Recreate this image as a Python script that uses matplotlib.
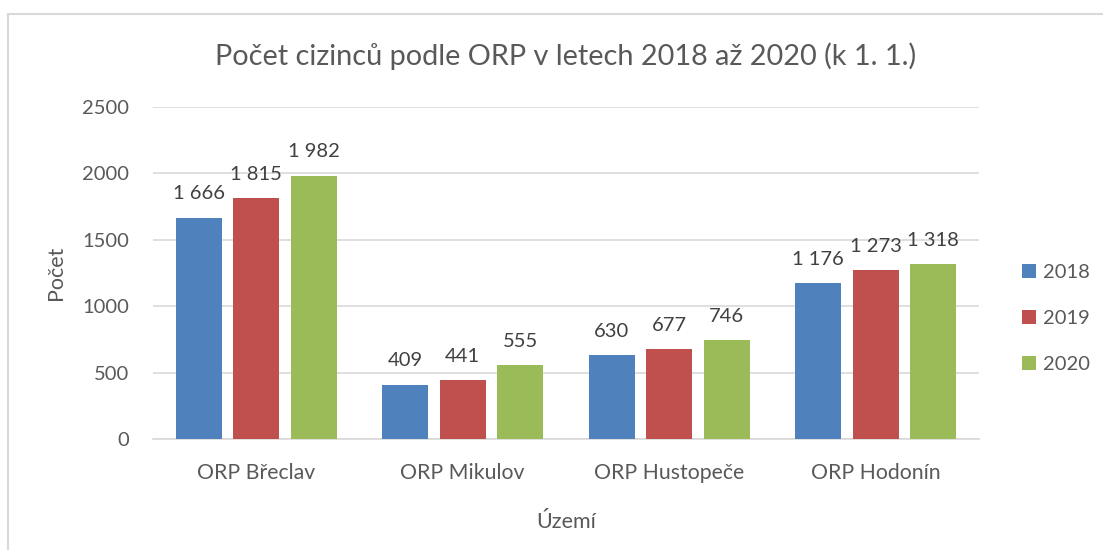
import numpy as np
import matplotlib
matplotlib.use('Agg')
import matplotlib.pyplot as plt
from matplotlib.patches import Rectangle

matplotlib.rc('font', family=['Lato', 'DejaVu Sans'])

regions = ['ORP Břeclav', 'ORP Mikulov', 'ORP Hustopeče', 'ORP Hodonín']
years = ['2018', '2019', '2020']
v2018 = [1666, 409, 630, 1176]
v2019 = [1815, 441, 677, 1273]
v2020 = [1982, 555, 746, 1318]
colors = ['#4f81bd', '#c0504d', '#9bbb59']
txt = '#595959'

fig = plt.figure(figsize=(11.03, 5.5), dpi=100)
# chart frame (light gray border, as in the exported Excel chart)
fig.add_artist(Rectangle((0.0075, -0.05), 1.05, 0.05 + 0.9745, transform=fig.transFigure,
                         fill=False, edgecolor='#d9d9d9', lw=1.5))

ax = fig.add_axes([0.1387, 0.2018, 0.7489, 0.6037])

x = np.arange(len(regions))
w = 0.223
step = 0.279
for i, (yr, vals) in enumerate(zip(years, [v2018, v2019, v2020])):
    bars = ax.bar(x + (i - 1) * step, vals, w, color=colors[i], label=yr, zorder=3)
    for b, v in zip(bars, vals):
        lab = f"{v:,}".replace(',', ' ')
        ax.annotate(lab, (b.get_x() + b.get_width() / 2, v), xytext=(0, 11),
                    textcoords='offset points', ha='center', va='bottom',
                    fontsize=14.5, color='#404040')

ax.set_xlim(-0.5, 3.5)
ax.set_ylim(0, 2500)
ax.set_yticks(range(0, 2501, 500))
ax.set_xticks(x)
ax.set_xticklabels(regions, fontsize=15.3)
ax.grid(axis='y', color='#d9d9d9', lw=1.2, zorder=0)
for s in ['top', 'right', 'left']:
    ax.spines[s].set_visible(False)
ax.spines['bottom'].set_color('#d9d9d9')
ax.spines['bottom'].set_linewidth(1.2)
ax.tick_params(axis='both', length=0, colors=txt)
ax.tick_params(axis='y', pad=17, labelsize=14.5)
ax.tick_params(axis='x', pad=17)

ax.set_title('Počet cizinců podle ORP v letech 2018 až 2020 (k 1. 1.)',
             fontsize=20.8, color=txt, pad=30)
ax.set_ylabel('Počet', fontsize=15.5, color=txt, labelpad=12)
ax.set_xlabel('Území', fontsize=15.5, color=txt, labelpad=21)

ax.legend(loc='center left', bbox_to_anchor=(1.03, 0.363), frameon=False,
          fontsize=14.5, labelcolor=txt, handlelength=0.7, handleheight=0.7,
          labelspacing=1.45, handletextpad=0.35)

fig.savefig('out.png', dpi=100)
